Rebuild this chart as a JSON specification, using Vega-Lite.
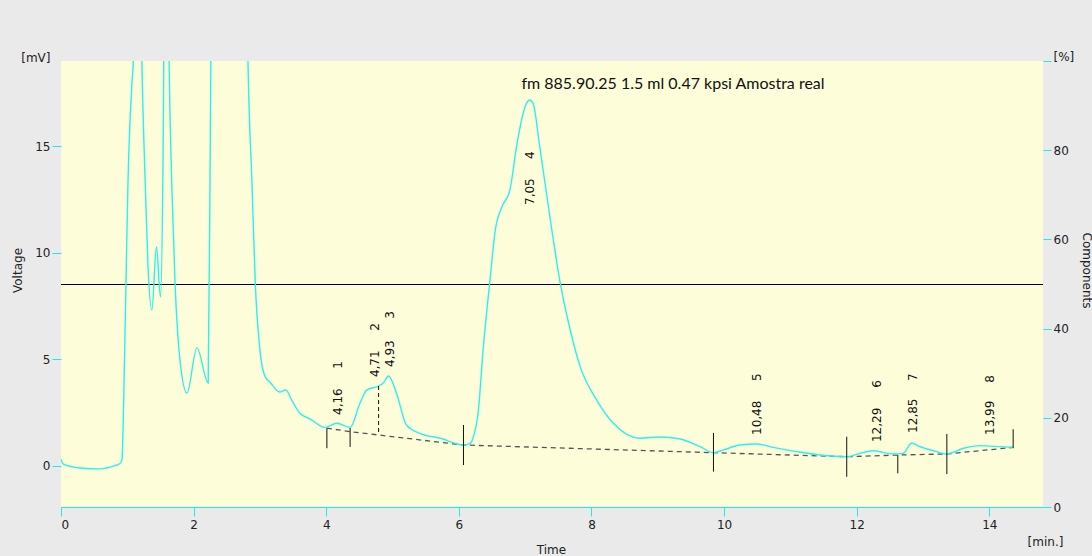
{
  "$schema": "https://vega.github.io/schema/vega-lite/v6.json",
  "width": 982,
  "height": 446,
  "autosize": "none",
  "padding": {"left": 61, "top": 61, "right": 49, "bottom": 49},
  "background": "#EAEAEA",
  "title": {"text": "fm 885.90.25 1.5 ml 0.47 kpsi Amostra real", "anchor": "middle", "frame": "group", "dx": 121, "dy": 50, "offset": 0, "baseline": "middle", "font": "Lato", "fontSize": 16, "fontWeight": "normal", "color": "#111"},
  "config": {
    "view": {"fill": "#FDFDD9", "stroke": null},
    "axis": {"grid": false, "labelFont": "DejaVu Sans", "labelFontSize": 11, "labelColor": "#222", "titleFont": "DejaVu Sans", "titleFontSize": 12, "titleFontWeight": "normal", "titleColor": "#222", "tickColor": "#22E8EE", "domainColor": "#22E8EE", "tickSize": 9}
  },
  "datasets": {
    "signal": [
      {"t": 0, "v": 0.31}, {"t": 0.03, "v": 0.08}, {"t": 0.29, "v": -0.11}, {"t": 0.59, "v": -0.15}, {"t": 0.81, "v": 0}, {"t": 0.89, "v": 0.1}, {"t": 0.92, "v": 0.27}, {"t": 0.94, "v": 2.29}, {"t": 0.97, "v": 6.98}, {"t": 1.01, "v": 13.3}, {"t": 1.07, "v": 17.97}, {"t": 1.09, "v": 18.95}, {"t": 1.15, "v": 35}, {"t": 1.22, "v": 18.95}, {"t": 1.27, "v": 13.27}, {"t": 1.31, "v": 9.52}, {"t": 1.37, "v": 7.31}, {"t": 1.44, "v": 10.27}, {"t": 1.5, "v": 7.92}, {"t": 1.54, "v": 14.82}, {"t": 1.55, "v": 18.95}, {"t": 1.59, "v": 30}, {"t": 1.63, "v": 18.95}, {"t": 1.67, "v": 13.27}, {"t": 1.72, "v": 8.58}, {"t": 1.79, "v": 5.1}, {"t": 1.9, "v": 3.41}, {"t": 2.05, "v": 5.53}, {"t": 2.22, "v": 3.88}, {"t": 2.26, "v": 18.95}, {"t": 2.28, "v": 25}, {"t": 2.53, "v": 60}, {"t": 2.79, "v": 25}, {"t": 2.82, "v": 18.95}, {"t": 2.88, "v": 13.27}, {"t": 2.93, "v": 8.58}, {"t": 3.0, "v": 5.44}, {"t": 3.08, "v": 4.17}, {"t": 3.15, "v": 3.93}, {"t": 3.3, "v": 3.46}, {"t": 3.39, "v": 3.55}, {"t": 3.48, "v": 3.08}, {"t": 3.6, "v": 2.47}, {"t": 3.76, "v": 2.19}, {"t": 3.98, "v": 1.8}, {"t": 4.16, "v": 1.99}, {"t": 4.36, "v": 1.8}, {"t": 4.51, "v": 2.94}, {"t": 4.61, "v": 3.55}, {"t": 4.79, "v": 3.74}, {"t": 4.86, "v": 3.88}, {"t": 4.94, "v": 4.21}, {"t": 5.06, "v": 3.4}, {"t": 5.21, "v": 1.91}, {"t": 5.41, "v": 1.52}, {"t": 5.72, "v": 1.29}, {"t": 6.07, "v": 0.97}, {"t": 6.17, "v": 1.05}, {"t": 6.22, "v": 1.36}, {"t": 6.29, "v": 2.46}, {"t": 6.37, "v": 5.59}, {"t": 6.47, "v": 8.72}, {"t": 6.55, "v": 11.07}, {"t": 6.65, "v": 12.16}, {"t": 6.77, "v": 12.94}, {"t": 6.87, "v": 14.98}, {"t": 6.97, "v": 16.54}, {"t": 7.02, "v": 17.01}, {"t": 7.07, "v": 17.17}, {"t": 7.12, "v": 17.01}, {"t": 7.22, "v": 14.98}, {"t": 7.38, "v": 11.54}, {"t": 7.53, "v": 8.56}, {"t": 7.68, "v": 6.37}, {"t": 7.83, "v": 4.65}, {"t": 8.08, "v": 3.08}, {"t": 8.33, "v": 1.99}, {"t": 8.73, "v": 1.29}, {"t": 9.03, "v": 1.35}, {"t": 9.34, "v": 1.25}, {"t": 9.64, "v": 0.89}, {"t": 9.84, "v": 0.61}, {"t": 9.99, "v": 0.74}, {"t": 10.24, "v": 0.97}, {"t": 10.49, "v": 1.02}, {"t": 10.74, "v": 0.86}, {"t": 11.1, "v": 0.66}, {"t": 11.45, "v": 0.5}, {"t": 11.85, "v": 0.42}, {"t": 12.05, "v": 0.58}, {"t": 12.25, "v": 0.7}, {"t": 12.55, "v": 0.55}, {"t": 12.7, "v": 0.58}, {"t": 12.83, "v": 1.05}, {"t": 12.96, "v": 0.89}, {"t": 13.16, "v": 0.7}, {"t": 13.36, "v": 0.55}, {"t": 13.61, "v": 0.82}, {"t": 13.86, "v": 0.94}, {"t": 14.01, "v": 0.92}, {"t": 14.36, "v": 0.86}
    ],
    "baseline": [
      {"t": 4.01, "v": 1.76}, {"t": 4.36, "v": 1.6}, {"t": 4.79, "v": 1.44}, {"t": 6.07, "v": 0.97}, {"t": 9.84, "v": 0.61}, {"t": 11.85, "v": 0.42}, {"t": 12.62, "v": 0.5}, {"t": 13.36, "v": 0.55}, {"t": 14.36, "v": 0.86}
    ],
    "markers": [
      {"t": 4.01, "top": 1.76, "bottom": 0.82}, {"t": 4.36, "top": 1.77, "bottom": 0.88}, {"t": 6.07, "top": 1.91, "bottom": 0.03}, {"t": 9.84, "top": 1.54, "bottom": -0.28}, {"t": 11.85, "top": 1.36, "bottom": -0.52}, {"t": 12.62, "top": 0.5, "bottom": -0.36}, {"t": 13.36, "top": 1.49, "bottom": -0.39}, {"t": 14.36, "top": 1.71, "bottom": 0.82}
    ],
    "split": [{"t": 4.79, "top": 3.74, "bottom": 1.44}],
    "peaks": [
      {"rt": 4.18, "label": "4,16", "labelV": 2.38, "num": "1", "numV": 4.73},
      {"rt": 4.74, "label": "4,71", "labelV": 4.16, "num": "2", "numV": 6.51},
      {"rt": 4.96, "label": "4,93", "labelV": 4.63, "num": "3", "numV": 7.08},
      {"rt": 7.07, "label": "7,05", "labelV": 12.24, "num": "4", "numV": 14.58},
      {"rt": 10.5, "label": "10,48", "labelV": 1.44, "num": "5", "numV": 4.16},
      {"rt": 12.31, "label": "12,29", "labelV": 1.11, "num": "6", "numV": 3.84},
      {"rt": 12.85, "label": "12,85", "labelV": 1.54, "num": "7", "numV": 4.16},
      {"rt": 14.01, "label": "13,99", "labelV": 1.44, "num": "8", "numV": 4.07}
    ],
    "levels": [{"pct": 50}]
  },
  "resolve": {"scale": {"x": "independent", "y": "independent"}},
  "layer": [
    {
      "data": {"name": "levels"},
      "mark": {"type": "rule", "color": "#000", "strokeWidth": 1, "yOffset": 0.5},
      "encoding": {
        "y": {"field": "pct", "type": "quantitative", "scale": {"domain": [0, 100], "nice": false, "zero": false},
          "axis": {"orient": "right", "values": [0, 20, 40, 60, 80, 100], "labelExpr": "datum.value == 100 ? '[%]' : datum.label", "labelOffset": {"condition": {"test": "datum.value == 100", "value": -5}, "value": 0}, "domain": false, "tickSize": 8, "labelPadding": 2, "title": "Components", "titleAngle": 90, "titleX": 43, "titleY": 209, "titleAlign": "center", "titleBaseline": "middle", "labelFontSize": 12}}
      }
    },
    {
      "data": {"name": "baseline"},
      "mark": {"type": "line", "color": "#555", "strokeWidth": 1.3, "strokeDash": [5, 4], "clip": true},
      "encoding": {
        "x": {"field": "t", "type": "quantitative", "scale": {"domain": [0, 14.81], "nice": false, "zero": false},
          "axis": {"orient": "bottom", "labels": false, "ticks": false, "domain": false, "title": "[min.]", "titleX": 984, "titleY": 34, "titleAlign": "center", "titleBaseline": "middle", "titleFontSize": 12}},
        "y": {"field": "v", "type": "quantitative", "scale": {"domain": [-1.94, 19.0], "nice": false, "zero": false}, "axis": null}
      }
    },
    {
      "data": {"name": "signal"},
      "mark": {"type": "line", "color": "#2AF0F0", "strokeWidth": 1.4, "clip": true, "interpolate": "monotone"},
      "encoding": {
        "x": {"field": "t", "type": "quantitative", "scale": {"domain": [0, 14.81], "nice": false, "zero": false},
          "axis": {"orient": "bottom", "values": [0, 2, 4, 6, 8, 10, 12, 14], "labelPadding": 3, "title": "Time", "titleX": 490, "titleY": 42, "titleAlign": "center", "titleBaseline": "middle", "labelFontSize": 12}},
        "y": {"field": "v", "type": "quantitative", "scale": {"domain": [-1.94, 19.0], "nice": false, "zero": false},
          "axis": {"orient": "left", "values": [0, 5, 10, 15, 19], "labelExpr": "datum.value > 18 ? '[mV]' : datum.label", "labelOffset": {"condition": {"test": "datum.value > 18", "value": -4}, "value": 0}, "tickColor": {"condition": {"test": "datum.value > 18", "value": "transparent"}, "value": "#22E8EE"}, "domain": false, "labelPadding": 2, "title": "Voltage", "titleAngle": -90, "titleX": -44, "titleY": 209, "titleAlign": "center", "titleBaseline": "middle", "labelFontSize": 12}}
      }
    },
    {
      "data": {"name": "markers"},
      "mark": {"type": "rule", "color": "#111", "strokeWidth": 1},
      "encoding": {
        "x": {"field": "t", "type": "quantitative", "scale": {"domain": [0, 14.81], "nice": false, "zero": false}, "axis": null},
        "y": {"field": "top", "type": "quantitative", "scale": {"domain": [-1.94, 19.0], "nice": false, "zero": false}, "axis": null},
        "y2": {"field": "bottom"}
      }
    },
    {
      "data": {"name": "split"},
      "mark": {"type": "rule", "color": "#111", "strokeWidth": 1, "strokeDash": [4, 3]},
      "encoding": {
        "x": {"field": "t", "type": "quantitative", "scale": {"domain": [0, 14.81], "nice": false, "zero": false}, "axis": null},
        "y": {"field": "top", "type": "quantitative", "scale": {"domain": [-1.94, 19.0], "nice": false, "zero": false}, "axis": null},
        "y2": {"field": "bottom"}
      }
    },
    {
      "data": {"name": "peaks"},
      "mark": {"type": "text", "angle": 270, "align": "left", "baseline": "middle", "font": "DejaVu Sans", "fontSize": 12, "color": "#111"},
      "encoding": {
        "x": {"field": "rt", "type": "quantitative", "scale": {"domain": [0, 14.81], "nice": false, "zero": false}, "axis": null},
        "y": {"field": "labelV", "type": "quantitative", "scale": {"domain": [-1.94, 19.0], "nice": false, "zero": false}, "axis": null},
        "text": {"field": "label"}
      }
    },
    {
      "data": {"name": "peaks"},
      "mark": {"type": "text", "angle": 270, "align": "center", "baseline": "middle", "font": "DejaVu Sans", "fontSize": 12, "color": "#111"},
      "encoding": {
        "x": {"field": "rt", "type": "quantitative", "scale": {"domain": [0, 14.81], "nice": false, "zero": false}, "axis": null},
        "y": {"field": "numV", "type": "quantitative", "scale": {"domain": [-1.94, 19.0], "nice": false, "zero": false}, "axis": null},
        "text": {"field": "num"}
      }
    }
  ]
}
